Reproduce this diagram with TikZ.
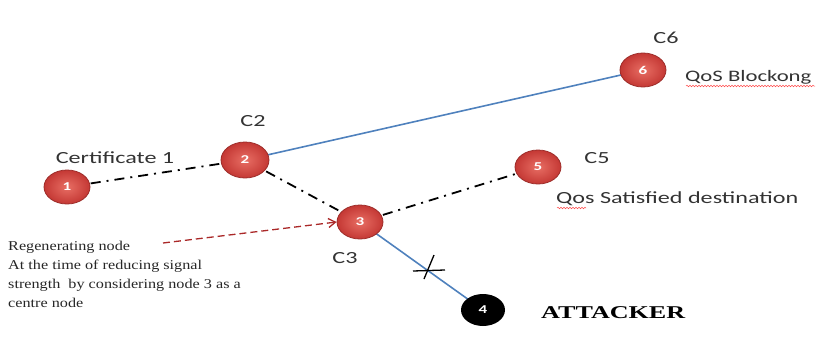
\documentclass[tikz,border=0pt]{standalone}
\usepackage{fontspec}
\setmainfont{Liberation Serif}
\newfontfamily\labelfont[FakeStretch=1.42]{Carlito}
\newfontfamily\notefont[FakeStretch=1.2]{Liberation Serif}
\newfontfamily\attfont[FakeStretch=1.45]{Liberation Serif}
\usetikzlibrary{arrows.meta,decorations.pathmorphing,calc,shapes.geometric}
\definecolor{nodered}{RGB}{196,56,52}
\definecolor{noderedlight}{RGB}{232,110,100}
\definecolor{linkblue}{RGB}{79,129,189}
\definecolor{arrowred}{RGB}{170,40,40}
\tikzset{
  x=1pt, y=-1pt,
  rednode/.style={ellipse, minimum width=46pt, minimum height=34pt, inner sep=0pt,
    inner color=noderedlight, outer color=nodered, draw=nodered!80!black, line width=0.8pt,
    text=white, font=\labelfont\bfseries\fontsize{12}{14}\selectfont},
  blacknode/.style={ellipse, minimum width=44pt, minimum height=32pt, inner sep=0pt,
    fill=black, text=white, font=\labelfont\bfseries\fontsize{12}{14}\selectfont},
  dashdotlink/.style={line width=1.8pt, dash pattern=on 10pt off 6pt on 2pt off 6pt},
  bluelink/.style={draw=linkblue, line width=1.6pt},
  caption/.style={font=\labelfont\fontsize{17}{19}\selectfont, text=black!80},
  wavy/.style={draw=red!70, line width=0.5pt, decorate,
    decoration={snake, amplitude=0.8pt, segment length=3pt}}
}
\begin{document}
\begin{tikzpicture}
\useasboundingbox (0,0) rectangle (817,343);

% link end points
\coordinate (c1) at (67,187);
\coordinate (c2) at (245,160);
\coordinate (c3) at (360,222);
\coordinate (c4) at (483,310);
\coordinate (c5) at (538,167);
\coordinate (c6) at (643,70);

% links
\draw[bluelink] (c2) -- (c6);
\draw[bluelink] (c3) -- (c4);
\draw[dashdotlink] (c1) -- (c2);
\draw[dashdotlink] (c2) -- (c3);
\draw[dashdotlink] (c3) -- (c5);

% broken link mark
\coordinate (cut) at (430,267);
\draw[line width=1.3pt] ($(cut)+(-17,4)$) -- ($(cut)+(15,3)$);
\draw[line width=1.3pt] ($(cut)+(4,-12)$) -- ($(cut)+(-6,12)$);

% nodes
\node[rednode] (n1) at (c1) {1};
\node[rednode, minimum width=48pt, minimum height=36pt] (n2) at (c2) {2};
\node[rednode] (n3) at (c3) {3};
\node[blacknode] (n4) at (c4) {4};
\node[rednode] (n5) at (c5) {5};
\node[rednode] (n6) at (c6) {6};

% regenerating-node pointer
\coordinate (src) at (163,243);
\draw[arrowred, line width=1.3pt, dash pattern=on 7pt off 4pt, -{Straight Barb[length=7pt,width=9pt]}]
  (src) -- (n3.west);

% labels
\node[caption] (lc1) at (115,158) {Certificate 1};
\node[caption] (lc2) at (253,121) {C2};
\node[caption] (lc3) at (345,258) {C3};
\node[caption] (lc5) at (597,158) {C5};
\node[caption] (lc6) at (666,38) {C6};
\node[caption, font=\labelfont\fontsize{16}{19}\selectfont, anchor=west, inner sep=0pt] (lq6) at (685,77) {QoS Blockong};
\draw[wavy] (686,86) -- (815,86);
\node[caption, anchor=west, inner sep=0pt] (lq5) at (556,199) {Qos Satisfied destination};
\draw[wavy] (557,208) -- (586,208);
\node[font=\attfont\bfseries\fontsize{18}{20}\selectfont, anchor=west, inner sep=0pt] (latt) at (541,313) {ATTACKER};
\node[anchor=north west, align=left, inner sep=0pt, font=\notefont\fontsize{13.5}{19}\selectfont, text=black!85]
  (lregen) at (8,241) {Regenerating node\\At\ the time of reducing signal\\strength\ \ by considering node 3 as a\\centre node};
\end{tikzpicture}
\end{document}
